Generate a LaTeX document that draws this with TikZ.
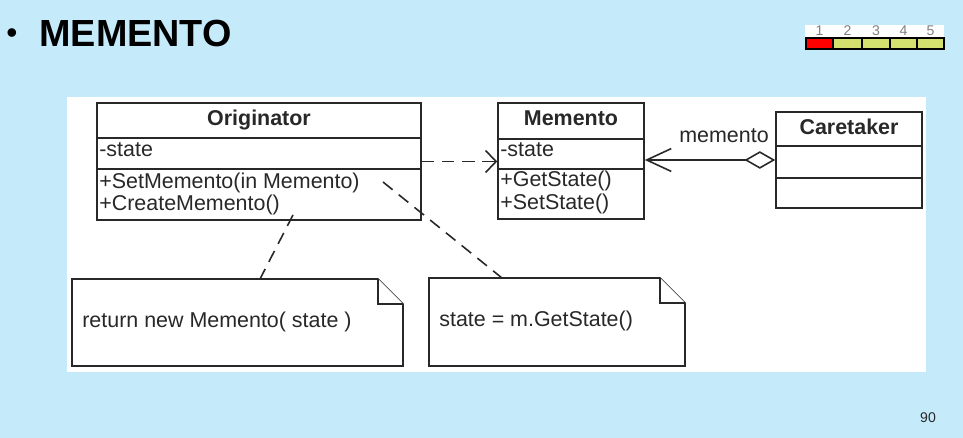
\documentclass[tikz,border=0pt]{standalone}
\usepackage{fontspec}
\setmainfont{Liberation Sans}
\usetikzlibrary{arrows.meta,fit,calc}
\definecolor{slidebg}{RGB}{197,234,250}
\definecolor{cellgreen}{RGB}{212,225,110}
\definecolor{inkgray}{RGB}{40,40,40}
\tikzset{
	classbox/.style={draw=inkgray, line width=0.9pt, inner sep=0pt, fill=white},
	notebox/.style={inner sep=0pt},
	umltext/.style={font=\fontsize{12.2}{14}\selectfont, text=inkgray, inner sep=0pt, anchor=base west},
	umltitle/.style={font=\fontsize{12.2}{14}\selectfont\bfseries, text=inkgray, inner sep=0pt, anchor=base},
	dashline/.style={draw=inkgray, line width=0.9pt, dash pattern=on 7pt off 4.5pt}
}
\begin{document}
\begin{tikzpicture}[x=0.02cm, y=-0.02cm]
	\useasboundingbox (0,0) rectangle (963,438);
	% Фон слайда
	\fill[slidebg] (0,0) rectangle (963,438);
	\fill[white] (67,97) rectangle (926,372);

	% Заголовок
	\node[inner sep=0pt, anchor=base] (bul) at (12,44) {\fontsize{18}{22}\selectfont •};
	\node[inner sep=0pt, anchor=base west, font=\fontsize{21.5}{25}\selectfont\bfseries] (title) at (39,47) {MEMENTO};

	% Шкала сложности
	\fill[white] (805,25) rectangle (944,49);
	\fill[red] (806,38) rectangle (833,49);
	\foreach \i/\xa/\xb in {2/833/862, 3/862/890, 4/890/917, 5/917/944}
		\fill[cellgreen] (\xa,38) rectangle (\xb,49);
	\foreach \i/\xa/\xb in {1/806/833, 2/833/862, 3/862/890, 4/890/917, 5/917/944} {
		\draw[line width=1.2pt] (\xa,38) rectangle (\xb,49);
		\node[inner sep=0pt, text=gray, font=\fontsize{8}{9}\selectfont] (lvl\i) at ({(\xa+\xb)/2},31) {\i};
	}

	% Классы
	\node[classbox, fit={(97,103) (421,220)}] (orig) {};
	\draw[classbox] (97,138) -- (421,138) (97,169) -- (421,169);
	\node[umltitle] (origname) at (259,126) {Originator};
	\node[umltext] (origstate) at (99,157) {-state};
	\node[umltext] (origset) at (99,189) {+SetMemento(in Memento)};
	\node[umltext] (origcreate) at (99,211) {+CreateMemento()};

	\node[classbox, fit={(498,103) (644,219)}] (memo) {};
	\draw[classbox] (498,139) -- (644,139) (498,169) -- (644,169);
	\node[umltitle] (memoname) at (571,126) {Memento};
	\node[umltext] (memostate) at (500,157) {-state};
	\node[umltext] (memoget) at (500,187) {+GetState()};
	\node[umltext] (memoset) at (500,210) {+SetState()};

	\node[classbox, fit={(776,112) (922,208)}] (care) {};
	\draw[classbox] (776,146) -- (922,146) (776,178) -- (922,178);
	\node[umltitle] (carename) at (849,135) {Caretaker};

	% Связи между классами
	\draw[dashline, -{Straight Barb[length=6pt,width=12.5pt]}] (orig.east) -- (orig.east -| memo.west);
	\draw[draw=inkgray, line width=0.9pt, {Diamond[open,fill=white,length=17.5pt,width=10pt]}-{Straight Barb[length=14pt,width=13pt]}]
		(care.west) -- (care.west -| memo.east);
	\node[umltext, anchor=base] (rolename) at (724,143) {memento};

	% Примечания
	\node[notebox, fit={(72,279) (403,366)}] (noteret) {};
	\draw[classbox] (72,279) -- (378,279) -- (403,304) -- (403,366) -- (72,366) -- cycle;
	\draw[classbox] (378,279) -- (378,304) -- (403,304);
	\node[umltext] (rettext) at (82,328) {return new Memento( state )};

	\node[notebox, fit={(429,278) (685,366)}] (noteset) {};
	\draw[classbox] (429,278) -- (660,278) -- (685,303) -- (685,366) -- (429,366) -- cycle;
	\draw[classbox] (660,278) -- (660,303) -- (685,303);
	\node[umltext] (settext) at (439,327) {state = m.GetState()};

	% Пунктир к примечаниям
	\coordinate (fromcreate) at (293,215);
	\coordinate (toret) at (260,279);
	\draw[dashline] (fromcreate) -- (toret);
	\coordinate (fromset) at (383,182);
	\coordinate (toset) at (502,278);
	\draw[dashline] (fromset) -- (toset);

	% Номер слайда
	\node[inner sep=0pt, anchor=base, text=inkgray, font=\fontsize{8}{9}\selectfont] (pagenum) at (928,423) {90};
\end{tikzpicture}
\end{document}
